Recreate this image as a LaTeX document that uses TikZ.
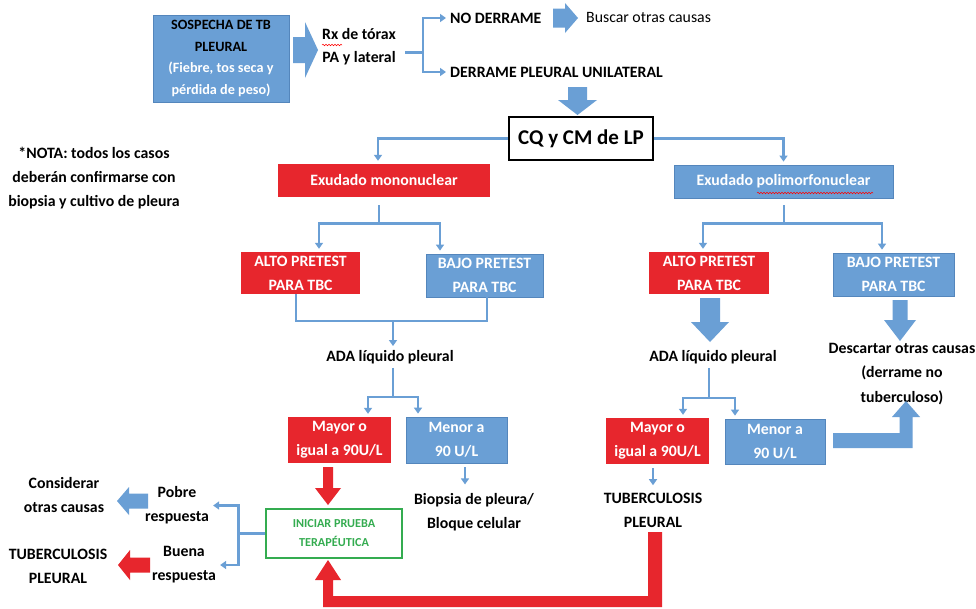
\documentclass[tikz,border=0pt]{standalone}
\usepackage{fontspec}
\setmainfont{Carlito}
\usetikzlibrary{arrows.meta,calc,decorations.pathmorphing}
\definecolor{azul}{RGB}{106,159,213}
\definecolor{azulosc}{RGB}{84,134,188}
\definecolor{rojo}{RGB}{231,38,45}
\definecolor{verde}{RGB}{52,172,80}
\newcommand{\fuente}{\fontsize{15.8}{24}\selectfont\bfseries}

\begin{document}
\begin{tikzpicture}[x=1pt,y=-1pt,
   caja/.style={align=center,inner sep=0pt,font=\fuente,text=white},
   azulbox/.style={caja,fill=azul,draw=azulosc,line width=0.8pt},
   rojobox/.style={caja,fill=rojo},
   texto/.style={align=center,inner sep=1pt,font=\fuente},
   conn/.style={draw=azul,line width=2.6pt},
   arr/.style={conn,-{Triangle[length=6pt,width=8pt]},shorten >=3pt},
   onda/.style={draw=red,line width=0.5pt,decorate,decoration={snake,amplitude=0.8pt,segment length=3pt}}]
   \fill[white] (0,0) rectangle (976,608);
   \useasboundingbox (0,0) rectangle (976,608);

   % top row
   \node[azulbox,minimum width=136pt,minimum height=87pt,font=\fontsize{14.2}{21.5}\selectfont\bfseries] (sospecha) at (221,58.5)
      {\textcolor{black}{SOSPECHA DE TB}\\\textcolor{black}{PLEURAL}\\(Fiebre, tos seca y\\pérdida de peso)};
   \node[texto,font=\fontsize{15.8}{23}\selectfont\bfseries] (rx) at (359,46.5) {Rx de tórax\\PA y lateral};
   \node[texto,anchor=west] (noder) at (449,18) {NO DERRAME};
   \node[texto,anchor=west,font=\fontsize{15.8}{24}\selectfont] (buscar) at (585,17) {Buscar otras causas};
   \node[texto,anchor=west] (derrame) at (449,72) {DERRAME PLEURAL UNILATERAL};
   \node[draw=black,line width=2.5pt,fill=white,inner sep=0pt,minimum width=144pt,minimum height=43pt,
      font=\fontsize{21}{25}\selectfont\bfseries] (cq) at (581,138.5) {CQ y CM de LP};

   % exudados y pretest
   \node[texto] (nota) at (94,178) {*NOTA: todos los casos\\deberán confirmarse con\\biopsia y cultivo de pleura};
   \node[rojobox,minimum width=212pt,minimum height=33pt] (mono) at (384,180.5) {Exudado mononuclear};
   \node[azulbox,minimum width=219pt,minimum height=33pt] (poli) at (783.5,181.5) {Exudado polimorfonuclear};
   \node[rojobox,minimum width=119pt,minimum height=42pt] (altoI) at (300.5,273) {ALTO PRETEST\\PARA TBC};
   \node[azulbox,minimum width=117pt,minimum height=43pt] (bajoI) at (484.5,275.5) {BAJO PRETEST\\PARA TBC};
   \node[rojobox,minimum width=120pt,minimum height=42pt] (altoD) at (709,273) {ALTO PRETEST\\PARA TBC};
   \node[azulbox,minimum width=121pt,minimum height=43pt] (bajoD) at (893.5,274.5) {BAJO PRETEST\\PARA TBC};

   % ADA
   \node[texto] (adaI) at (390,357) {ADA líquido pleural};
   \node[texto] (adaD) at (713,357) {ADA líquido pleural};
   \node[texto,font=\fontsize{15.8}{24.5}\selectfont\bfseries] (descartar) at (902,374) {Descartar otras causas\\(derrame no\\tuberculoso)};
   \node[rojobox,minimum width=103pt,minimum height=46pt] (mayorI) at (339.5,440) {Mayor o\\igual a 90U/L};
   \node[azulbox,minimum width=101pt,minimum height=46pt] (menorI) at (456.5,440) {Menor a\\90 U/L};
   \node[rojobox,minimum width=103pt,minimum height=46pt] (mayorD) at (657.5,441) {Mayor o\\igual a 90U/L};
   \node[azulbox,minimum width=100pt,minimum height=45pt] (menorD) at (775,441.5) {Menor a\\90 U/L};

   % bottom row
   \node[texto] (biopsia) at (474,512.5) {Biopsia de pleura/\\Bloque celular};
   \node[texto] (tbD) at (653,510) {TUBERCULOSIS\\PLEURAL};
   \node[draw=verde,line width=2.5pt,fill=white,text=verde,align=center,inner sep=0pt,minimum width=136pt,minimum height=49pt,
      font=\fontsize{12.2}{19}\selectfont\bfseries] (iniciar) at (334,533.5) {INICIAR PRUEBA\\TERAPÉUTICA};
   \node[texto] (pobre) at (177,505.5) {Pobre\\respuesta};
   \node[texto] (buena) at (184,565) {Buena\\respuesta};
   \node[texto] (considerar) at (64,495) {Considerar\\otras causas};
   \node[texto] (tbI) at (58,566) {TUBERCULOSIS\\PLEURAL};

   % thin connectors
   \draw[conn] ($(rx.east)+(8,6)$) -- ++(18,0) coordinate (f1);
   \draw[arr] (f1) |- (noder.west);
   \draw[arr] (f1) |- (derrame.west);
   \draw[arr] (cq.west) -| ($(mono.north)+(-6,0)$);
   \draw[arr] (cq.east) -| (poli.north);
   \draw[conn] ($(mono.south)+(-5,8)$) -- ++(0,18) coordinate (f2);
   \draw[arr] (f2) -| ($(altoI.north)+(18.5,0)$);
   \draw[arr] (f2) -| ($(bajoI.north)+(-44.5,0)$);
   \draw[conn] ($(poli.south)+(0.5,7)$) -- ++(0,18) coordinate (f3);
   \draw[arr] (f3) -| ($(altoD.north)+(-6,0)$);
   \draw[arr] (f3) -| ($(bajoD.north)+(-11.5,0)$);
   \coordinate (j1) at (393,321);
   \draw[conn] ($(altoI.south)+(-4.5,0)$) |- (j1) -| ($(bajoI.south)+(2.5,0)$);
   \draw[arr] (j1) -- (j1 |- adaI.north);
   \coordinate (j2) at (393,397);
   \draw[conn] ($(j2 |- adaI.south)+(0,3)$) -- (j2);
   \draw[arr] (j2) -| ($(mayorI.north)+(28.5,0)$);
   \draw[arr] (j2) -| ($(menorI.north)+(-38.5,0)$);
   \coordinate (j3) at (709,398);
   \draw[conn] ($(j3 |- adaD.south)+(0,3)$) -- (j3);
   \draw[arr] (j3) -| ($(mayorD.north)+(25.5,0)$);
   \draw[arr] (j3) -| ($(menorD.north)+(-40,0)$);
   \draw[arr] ($(menorI.south)+(8.5,4)$) -- ++(0,20);
   \draw[arr] ($(mayorD.south)+(-4.5,4)$) -- ++(0,20);
   \draw[conn] (iniciar.west) -- ++(-26,0) coordinate (f5);
   \draw[arr] (f5) |- (pobre.east);
   \draw[arr] (f5) |- (buena.east);

   % block arrows
   \fill[azul] (293,37) -- (305,37) -- (305,22) -- (318,50) -- (305,78) -- (305,63) -- (293,63) -- cycle;
   \fill[azul] (553,8.5) -- (565,8.5) -- (565,3) -- (578,18) -- (565,33) -- (565,27.5) -- (553,27.5) -- cycle;
   \fill[azul] (568,87) -- (587,87) -- (587,100) -- (597,100) -- (577.5,115) -- (558,100) -- (568,100) -- cycle;
   \fill[azul] (700,298) -- (720,298) -- (720,322) -- (729,322) -- (710,342) -- (691,322) -- (700,322) -- cycle;
   \fill[azul] (892.5,300) -- (907.5,300) -- (907.5,320) -- (916,320) -- (900,341) -- (884,320) -- (892.5,320) -- cycle;
   \fill[azul] (833,433) -- (899.5,433) -- (899.5,417) -- (892,417) -- (906,401) -- (920,417) -- (912.5,417) -- (912.5,448) -- (833,448) -- cycle;
   \fill[azul] (148,493.5) -- (129,493.5) -- (129,487) -- (117,501) -- (129,515) -- (129,508.5) -- (148,508.5) -- cycle;
   \fill[rojo] (323,467) -- (333,467) -- (333,488) -- (341,488) -- (328,505) -- (315,488) -- (323,488) -- cycle;
   \fill[rojo] (150,557.5) -- (130,557.5) -- (130,550) -- (118,565) -- (130,580) -- (130,572.5) -- (150,572.5) -- cycle;
   \fill[rojo] (648,532) -- (662,532) -- (662,607) -- (323,607) -- (323,580) -- (315,580) -- (328,560)
      -- (341,580) -- (333,580) -- (333,596) -- (648,596) -- cycle;

   % spell-check marks
   \draw[onda] (322,45) -- (342,45);
   \draw[onda] (757,193) -- (873,193);
\end{tikzpicture}
\end{document}
